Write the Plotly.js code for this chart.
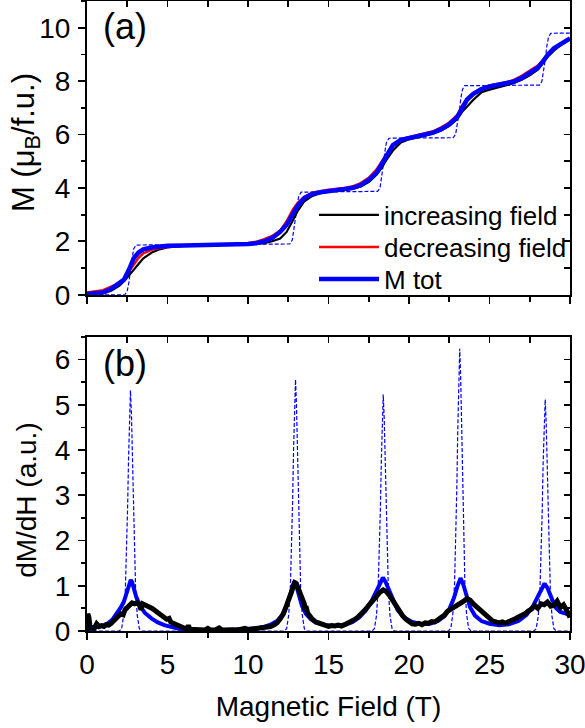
<!DOCTYPE html>
<html>
<head>
<meta charset="utf-8">
<script src="https://cdn.plot.ly/plotly-3.0.1.min.js"></script>
<style>html,body{margin:0;padding:0;background:#fff;}#chart{width:585px;height:728px;}</style>
</head>
<body>
<div id="chart"></div>
<script>
// ---------- Panel (a): magnetization ----------
const fieldM = [0, 0.5, 1, 1.5, 2, 2.3, 2.6, 2.9, 3.2, 3.5, 4, 4.5, 5, 6, 7, 8, 9, 10, 10.5, 11, 11.5, 12, 12.4, 12.8, 13.1, 13.5, 14, 14.5, 15, 16, 16.5, 17, 17.5, 18, 18.3, 18.6, 19, 19.5, 20, 21, 21.5, 22, 22.5, 23, 23.3, 23.6, 24, 24.5, 25, 26, 26.5, 27, 27.5, 28, 28.3, 28.6, 29, 29.5, 30];
const mIncreasing = [0.0, 0.02, 0.05, 0.15, 0.33, 0.5, 0.7, 0.93, 1.15, 1.36, 1.57, 1.7, 1.77, 1.83, 1.85, 1.86, 1.86, 1.88, 1.9, 1.93, 2.0, 2.1, 2.35, 2.8, 3.15, 3.5, 3.7, 3.8, 3.86, 3.92, 3.96, 4.05, 4.22, 4.5, 4.75, 5.05, 5.4, 5.7, 5.82, 5.96, 6.04, 6.15, 6.32, 6.58, 6.85, 7.04, 7.3, 7.58, 7.68, 7.84, 7.92, 8.05, 8.22, 8.43, 8.65, 8.9, 9.14, 9.38, 9.56];
const mDecreasing = [0.08, 0.12, 0.17, 0.3, 0.43, 0.6, 0.85, 1.1, 1.38, 1.55, 1.68, 1.75, 1.79, 1.83, 1.85, 1.86, 1.88, 1.93, 1.98, 2.08, 2.2, 2.4, 2.75, 3.2, 3.45, 3.67, 3.82, 3.88, 3.93, 4.0, 4.06, 4.18, 4.38, 4.7, 4.98, 5.28, 5.63, 5.83, 5.9, 6.03, 6.12, 6.27, 6.45, 6.73, 7.08, 7.35, 7.56, 7.73, 7.84, 7.95, 8.04, 8.2, 8.38, 8.58, 8.78, 8.98, 9.2, 9.43, 9.6];
const mTotal = [0.03, 0.04, 0.08, 0.22, 0.42, 0.57, 0.93, 1.36, 1.58, 1.7, 1.77, 1.81, 1.83, 1.84, 1.85, 1.86, 1.87, 1.9, 1.93, 2.0, 2.12, 2.35, 2.62, 3.05, 3.35, 3.62, 3.78, 3.84, 3.89, 3.95, 4.0, 4.1, 4.3, 4.58, 4.88, 5.2, 5.6, 5.8, 5.87, 5.98, 6.07, 6.2, 6.38, 6.66, 7.0, 7.3, 7.52, 7.7, 7.8, 7.9, 7.98, 8.12, 8.3, 8.5, 8.72, 8.97, 9.23, 9.44, 9.6];

const fieldStep = [0, 2.35, 2.5, 2.6, 2.7, 2.8, 2.9, 3.05, 12.6, 12.75, 12.85, 12.95, 13.05, 13.15, 13.3, 18.05, 18.2, 18.3, 18.4, 18.5, 18.6, 18.75, 22.75, 22.9, 23.0, 23.12, 23.22, 23.32, 23.45, 28.1, 28.25, 28.35, 28.46, 28.56, 28.66, 28.8, 30];
const mStep = [0, 0, 0.15, 0.45, 0.93, 1.4, 1.72, 1.86, 1.9, 2.05, 2.4, 2.88, 3.35, 3.68, 3.84, 3.87, 4.0, 4.35, 4.85, 5.35, 5.7, 5.86, 5.88, 6.02, 6.35, 6.85, 7.35, 7.68, 7.83, 7.85, 7.98, 8.3, 8.8, 9.3, 9.63, 9.79, 9.8];

// ---------- Panel (b): derivative ----------
const fieldDStep = [0, 2.0, 2.15, 2.28, 2.38, 2.46, 2.52, 2.58, 2.64, 2.70, 2.76, 2.82, 2.88, 2.94, 3.02, 3.12, 3.25, 3.4,
  12.25, 12.4, 12.53, 12.63, 12.71, 12.77, 12.83, 12.89, 12.95, 13.01, 13.07, 13.13, 13.19, 13.27, 13.37, 13.5, 13.65,
  17.7, 17.85, 17.98, 18.08, 18.16, 18.22, 18.28, 18.34, 18.40, 18.46, 18.52, 18.58, 18.64, 18.72, 18.82, 18.95, 19.1,
  22.45, 22.6, 22.73, 22.83, 22.91, 22.97, 23.03, 23.09, 23.15, 23.21, 23.27, 23.33, 23.39, 23.47, 23.57, 23.7, 23.85,
  27.75, 27.9, 28.03, 28.13, 28.21, 28.27, 28.33, 28.40, 28.46, 28.52, 28.58, 28.64, 28.70, 28.78, 28.88, 29.0, 29.15, 30];
const dStep = [0, 0, 0.05, 0.35, 0.9, 1.75, 2.7, 3.8, 4.8, 5.32, 4.8, 3.8, 2.7, 1.75, 0.9, 0.35, 0.05, 0,
  0, 0.05, 0.36, 0.95, 1.85, 2.85, 4.0, 5.0, 5.56, 5.0, 4.0, 2.85, 1.85, 0.95, 0.36, 0.05, 0,
  0, 0.05, 0.34, 0.9, 1.72, 2.65, 3.75, 4.7, 5.23, 4.7, 3.75, 2.65, 1.72, 0.9, 0.34, 0.05, 0,
  0, 0.06, 0.4, 1.05, 2.05, 3.15, 4.45, 5.6, 6.24, 5.6, 4.45, 3.15, 2.05, 1.05, 0.4, 0.06, 0,
  0, 0.05, 0.33, 0.87, 1.68, 2.6, 3.7, 4.6, 5.12, 4.6, 3.7, 2.6, 1.68, 0.87, 0.33, 0.05, 0, 0];

const fieldDTot = [0, 0.3, 0.7, 1.0, 1.3, 1.6, 1.9, 2.1, 2.3, 2.45, 2.6, 2.72, 2.8, 2.9, 3.05, 3.3, 3.6, 4.0, 4.4, 4.8, 5.2, 5.7, 6.2, 7, 8, 9, 10, 10.6, 11.0, 11.4, 11.8, 12.1, 12.4, 12.6, 12.75, 12.88, 13.0, 13.15, 13.35, 13.6, 13.9, 14.3, 14.8, 15.4, 16.0, 16.5, 16.9, 17.3, 17.7, 18.0, 18.2, 18.38, 18.55, 18.75, 19.0, 19.3, 19.7, 20.2, 20.8, 21.3, 21.8, 22.2, 22.5, 22.8, 23.0, 23.2, 23.35, 23.55, 23.8, 24.1, 24.5, 25.0, 25.6, 26.2, 26.8, 27.3, 27.7, 28.0, 28.25, 28.42, 28.6, 28.85, 29.1, 29.4, 29.7, 30.0];
const dTot = [0, 0.05, 0.1, 0.12, 0.17, 0.26, 0.4, 0.52, 0.66, 0.82, 1.0, 1.13, 1.08, 0.93, 0.76, 0.55, 0.4, 0.28, 0.19, 0.13, 0.09, 0.05, 0.03, 0.02, 0.02, 0.03, 0.04, 0.06, 0.09, 0.14, 0.22, 0.34, 0.56, 0.78, 0.98, 1.1, 1.0, 0.8, 0.56, 0.38, 0.26, 0.18, 0.13, 0.11, 0.13, 0.2, 0.3, 0.45, 0.68, 0.9, 1.06, 1.18, 1.08, 0.92, 0.68, 0.46, 0.3, 0.2, 0.15, 0.16, 0.22, 0.33, 0.48, 0.74, 0.98, 1.17, 1.05, 0.78, 0.52, 0.34, 0.22, 0.16, 0.13, 0.15, 0.22, 0.36, 0.55, 0.76, 0.95, 1.05, 0.95, 0.72, 0.52, 0.42, 0.38, 0.36];

const fieldDInc = [0.00, 0.05, 0.12, 0.2, 0.3, 0.45, 0.6, 0.75, 0.9, 1.05, 1.2, 1.35, 1.5, 1.65, 1.8, 1.95, 2.1, 2.25, 2.35, 2.5, 2.65, 2.8, 2.95, 3.1, 3.25, 3.35, 3.45, 3.6, 3.75, 3.9, 4.05, 4.2, 4.35, 4.5, 4.65, 4.8, 4.95, 5.1, 5.2, 5.35, 5.5, 5.65, 5.8, 6.0, 6.2, 6.3, 6.4, 6.7, 7.0, 7.3, 7.5, 7.7, 8.0, 8.2, 8.4, 8.7, 9.0, 9.3, 9.6, 9.8, 10.0, 10.3, 10.6, 10.9, 11.2, 11.4, 11.6, 11.8, 12.0, 12.2, 12.35, 12.5, 12.6, 12.7, 12.8, 12.9, 13.0, 13.1, 13.2, 13.3, 13.4, 13.5, 13.55, 13.6, 13.7, 13.8, 13.9, 14.0, 14.2, 14.4, 14.6, 14.8, 15.0, 15.2, 15.4, 15.6, 15.8, 16.0, 16.2, 16.4, 16.6, 16.8, 17.0, 17.2, 17.4, 17.6, 17.8, 18.0, 18.2, 18.4, 18.5, 18.6, 18.8, 19.0, 19.2, 19.4, 19.6, 19.8, 20.0, 20.2, 20.4, 20.6, 20.8, 21.0, 21.2, 21.4, 21.6, 21.8, 22.0, 22.2, 22.4, 22.6, 22.8, 23.0, 23.2, 23.4, 23.6, 23.8, 24.0, 24.2, 24.4, 24.6, 24.8, 25.0, 25.2, 25.4, 25.6, 25.8, 26.0, 26.2, 26.4, 26.6, 26.8, 27.0, 27.2, 27.4, 27.6, 27.8, 28.0, 28.2, 28.4, 28.6, 28.8, 29.0, 29.2, 29.4, 29.6, 29.8, 30.0];
const dInc = [0.0, 0.38, 0.30, 0.05, 0.08, 0.06, 0.16, 0.10, 0.12, 0.10, 0.14, 0.13, 0.17, 0.22, 0.27, 0.33, 0.38, 0.36, 0.46, 0.52, 0.58, 0.62, 0.60, 0.63, 0.58, 0.47, 0.60, 0.58, 0.55, 0.53, 0.50, 0.46, 0.42, 0.37, 0.35, 0.28, 0.26, 0.28, 0.20, 0.17, 0.14, 0.12, 0.09, 0.07, 0.05, 0.12, 0.04, 0.03, 0.04, 0.02, 0.06, 0.02, 0.03, 0.07, 0.02, 0.03, 0.03, 0.02, 0.04, 0.06, 0.03, 0.04, 0.05, 0.06, 0.08, 0.10, 0.13, 0.18, 0.27, 0.38, 0.52, 0.64, 0.77, 0.86, 0.98, 1.07, 1.05, 0.97, 0.88, 0.80, 0.70, 0.60, 0.45, 0.55, 0.40, 0.35, 0.29, 0.26, 0.20, 0.17, 0.14, 0.13, 0.10, 0.12, 0.11, 0.13, 0.11, 0.14, 0.17, 0.20, 0.25, 0.30, 0.36, 0.44, 0.52, 0.61, 0.70, 0.78, 0.86, 0.91, 0.90, 0.87, 0.78, 0.66, 0.55, 0.43, 0.34, 0.26, 0.21, 0.16, 0.15, 0.17, 0.14, 0.18, 0.17, 0.21, 0.20, 0.25, 0.28, 0.35, 0.44, 0.48, 0.55, 0.58, 0.62, 0.66, 0.72, 0.68, 0.60, 0.54, 0.46, 0.39, 0.33, 0.27, 0.22, 0.20, 0.18, 0.20, 0.17, 0.21, 0.23, 0.27, 0.31, 0.34, 0.38, 0.44, 0.48, 0.56, 0.50, 0.60, 0.58, 0.64, 0.55, 0.57, 0.66, 0.52, 0.58, 0.45, 0.30];

const seriesNames = ['increasing field', 'decreasing field', 'M tot'];
const xTitle = 'Magnetic Field (T)';
const yTitleA = 'M (\u03BC<sub>B</sub>/f.u.)';
const yTitleB = 'dM/dH (a.u.)';
const panelLabels = ['(a)', '(b)'];

const FONT = 'Liberation Sans, Arial, sans-serif';

const traces = [
  {x: fieldStep, y: mStep, xaxis: 'x', yaxis: 'y', mode: 'lines', showlegend: false,
   line: {color: '#0000ff', width: 1.2, dash: '4px,2px'}},
  {x: fieldM, y: mIncreasing, xaxis: 'x', yaxis: 'y', mode: 'lines', name: seriesNames[0], legend: 'legend',
   line: {color: '#000000', width: 2.2}},
  {x: fieldM, y: mDecreasing, xaxis: 'x', yaxis: 'y', mode: 'lines', name: seriesNames[1], legend: 'legend2',
   line: {color: '#ff0000', width: 2.5}},
  {x: fieldM, y: mTotal, xaxis: 'x', yaxis: 'y', mode: 'lines', name: seriesNames[2], legend: 'legend3',
   line: {color: '#0000ff', width: 4.5}},
  {x: fieldDStep, y: dStep, xaxis: 'x2', yaxis: 'y2', mode: 'lines', showlegend: false,
   line: {color: '#0000ff', width: 1.2, dash: '4px,2px'}},
  {x: fieldDTot, y: dTot, xaxis: 'x2', yaxis: 'y2', mode: 'lines', showlegend: false,
   line: {color: '#0000ff', width: 4}},
  {x: fieldDInc, y: dInc, xaxis: 'x2', yaxis: 'y2', mode: 'lines', showlegend: false,
   line: {color: '#000000', width: 5}},
  {x: [], y: [], xaxis: 'x3', yaxis: 'y3', mode: 'lines', showlegend: false},
  {x: [], y: [], xaxis: 'x4', yaxis: 'y4', mode: 'lines', showlegend: false}
];

const tickFont = {family: FONT, size: 28, color: '#000'};
const baseAxis = {
  showgrid: false, zeroline: false, showline: true, linecolor: '#000', linewidth: 2,
  ticks: 'outside', ticklen: 7, tickwidth: 1.8, tickcolor: '#000', tickfont: tickFont,
  ticklabeloverflow: 'allow'
};
const mirrorAxis = {
  showgrid: false, zeroline: false, showline: false, ticks: 'inside', ticklen: 6,
  tickwidth: 1.8, tickcolor: '#000', showticklabels: false
};
const legendBase = {x: 0.470, xanchor: 'left', yanchor: 'middle', bgcolor: 'rgba(0,0,0,0)',
  font: {family: FONT, size: 26, color: '#000'}, itemwidth: 60};
const titleFont = {family: FONT, size: 28, color: '#000'};

const layout = {
  width: 585, height: 728,
  margin: {l: 87, r: 15, t: 1, b: 97, autoexpand: false},
  paper_bgcolor: '#fff', plot_bgcolor: '#fff',
  font: {family: FONT, color: '#000'},
  showlegend: true,
  legend: Object.assign({}, legendBase, {y: 0.6603}),
  legend2: Object.assign({}, legendBase, {y: 0.6095}),
  legend3: Object.assign({}, legendBase, {y: 0.5587}),
  xaxis: Object.assign({}, baseAxis, {domain: [0, 1], anchor: 'y', range: [0, 30], dtick: 5, tick0: 0,
    showticklabels: false, mirror: true,
    minor: {dtick: 2.5, ticks: 'outside', ticklen: 5, tickwidth: 1.8, tickcolor: '#000', showgrid: false}}),
  yaxis: Object.assign({}, baseAxis, {domain: [0.5338, 1], anchor: 'x', range: [0, 11], dtick: 2, tick0: 0,
    mirror: true, ticklabelstandoff: 2,
    minor: {dtick: 1, ticks: 'outside', ticklen: 4, tickwidth: 1.8, tickcolor: '#000', showgrid: false}}),
  xaxis2: Object.assign({}, baseAxis, {domain: [0, 1], anchor: 'y2', range: [0, 30], dtick: 5, tick0: 0,
    mirror: true,
    title: {text: xTitle, font: titleFont, standoff: 18},
    minor: {dtick: 2.5, ticks: 'outside', ticklen: 5, tickwidth: 1.8, tickcolor: '#000', showgrid: false}}),
  yaxis2: Object.assign({}, baseAxis, {domain: [0, 0.4667], anchor: 'x2', range: [0, 6.5], dtick: 1, tick0: 0,
    mirror: true, ticklabelstandoff: 2,
    minor: {dtick: 0.5, ticks: 'outside', ticklen: 4, tickwidth: 1.8, tickcolor: '#000', showgrid: false}}),
  xaxis3: Object.assign({}, mirrorAxis, {overlaying: 'x', anchor: 'y', side: 'top', range: [0, 30], dtick: 2.5, tick0: 0}),
  yaxis3: Object.assign({}, mirrorAxis, {overlaying: 'y', anchor: 'x', side: 'right', range: [0, 11], dtick: 1, tick0: 0}),
  xaxis4: Object.assign({}, mirrorAxis, {overlaying: 'x2', anchor: 'y2', side: 'top', range: [0, 30], dtick: 2.5, tick0: 0}),
  yaxis4: Object.assign({}, mirrorAxis, {overlaying: 'y2', anchor: 'x2', side: 'right', range: [0, 6.5], dtick: 0.5, tick0: 0}),
  annotations: [
    {text: panelLabels[0], xref: 'paper', yref: 'paper', x: 0.028, y: 0.96, xanchor: 'left', yanchor: 'middle',
     showarrow: false, font: {family: FONT, size: 36, color: '#000'}},
    {text: panelLabels[1], xref: 'paper', yref: 'paper', x: 0.028, y: 0.424, xanchor: 'left', yanchor: 'middle',
     showarrow: false, font: {family: FONT, size: 36, color: '#000'}},
    {text: yTitleA, xref: 'paper', yref: 'paper', x: -0.1264, y: 0.776, xanchor: 'center', yanchor: 'middle',
     textangle: -90, showarrow: false, font: {family: FONT, size: 31, color: '#000'}},
    {text: yTitleB, xref: 'paper', yref: 'paper', x: -0.1244, y: 0.208, xanchor: 'center', yanchor: 'middle',
     textangle: -90, showarrow: false, font: titleFont}
  ]
};

Plotly.newPlot('chart', traces, layout, {staticPlot: true, displayModeBar: false});
</script>
</body>
</html>
